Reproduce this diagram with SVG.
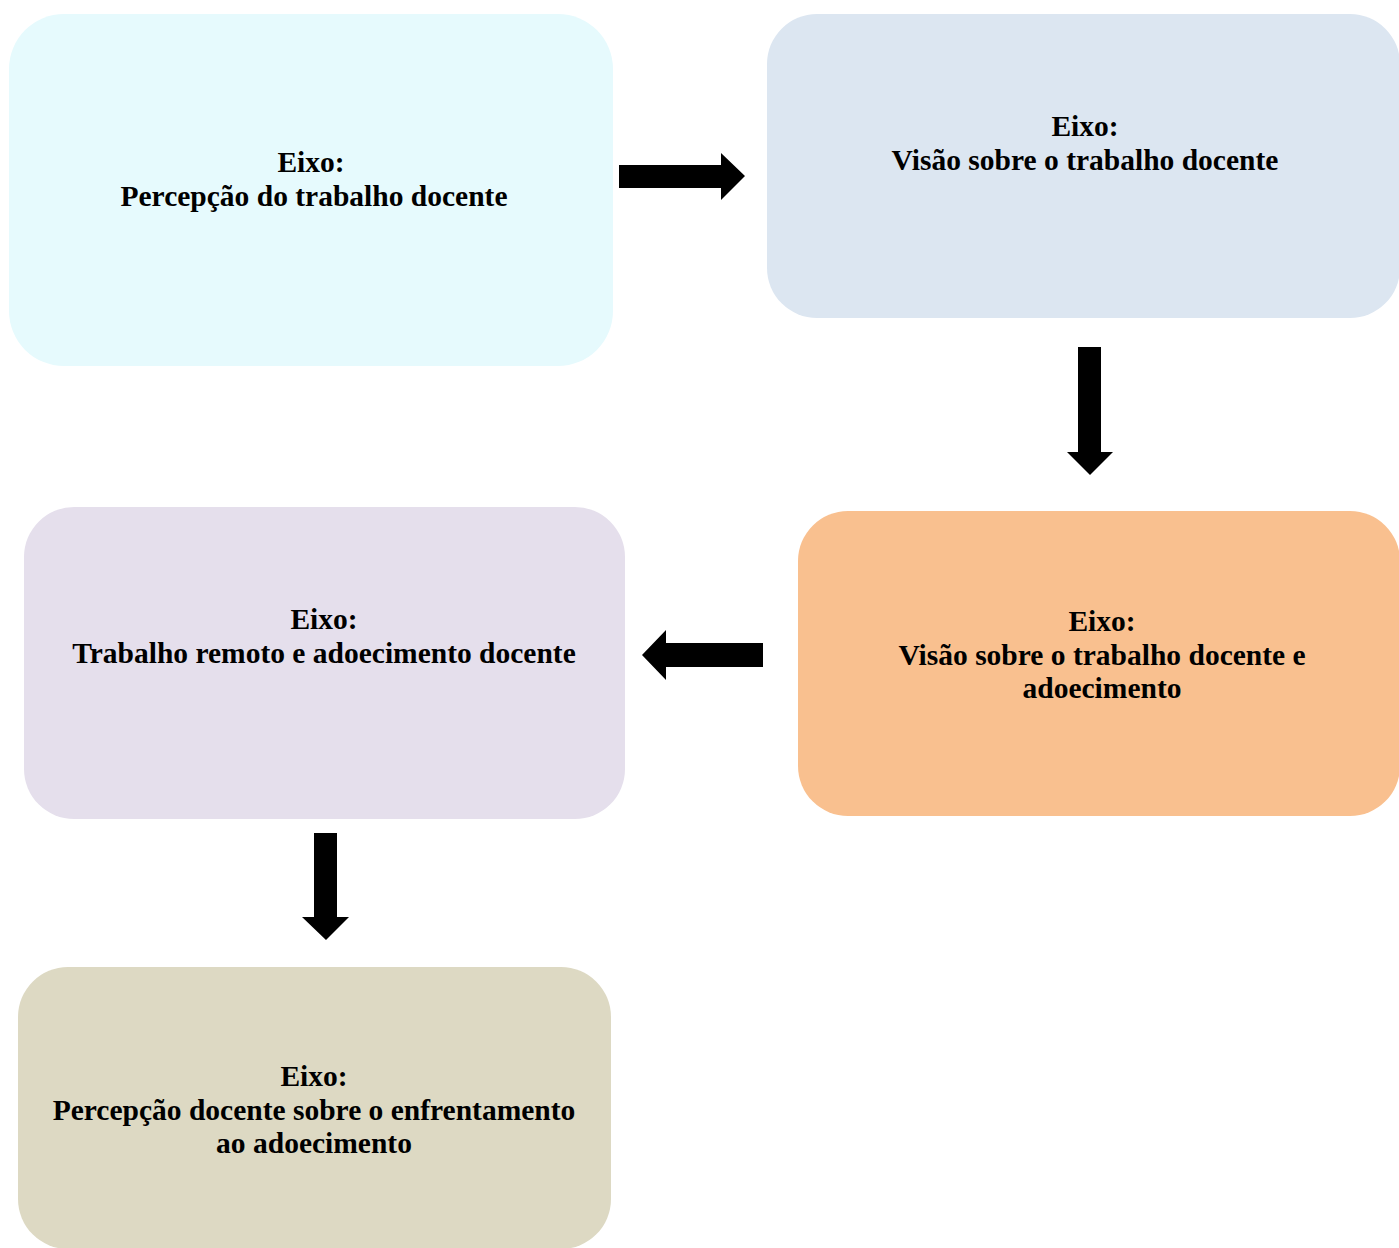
<svg xmlns="http://www.w3.org/2000/svg" width="1399" height="1248" viewBox="0 0 1399 1248">
<style>
text{font-family:"Liberation Serif","Times New Roman",serif;font-weight:bold;font-size:29.5px;fill:#000;text-anchor:middle}
.arrow{fill:#000}
</style>
<rect width="1399" height="1248" fill="#fff"/>
<g id="node-percepcao">
<rect x="9" y="14" width="604" height="352" rx="55" fill="#E6FAFD"/>
<text x="311" y="172">Eixo:</text>
<text x="314" y="206">Percepção do trabalho docente</text>
</g>
<g id="node-visao">
<rect x="767" y="14" width="633" height="304" rx="50" fill="#DCE6F1"/>
<text x="1085" y="136">Eixo:</text>
<text x="1085" y="170">Visão sobre o trabalho docente</text>
</g>
<g id="node-visao-adoecimento">
<rect x="798" y="511" width="602" height="305" rx="50" fill="#F9C08F"/>
<text x="1102" y="631">Eixo:</text>
<text x="1102" y="665">Visão sobre o trabalho docente e</text>
<text x="1102" y="698">adoecimento</text>
</g>
<g id="node-remoto">
<rect x="24" y="507" width="601" height="312" rx="50" fill="#E5DFEC"/>
<text x="324" y="629">Eixo:</text>
<text x="324" y="663">Trabalho remoto e adoecimento docente</text>
</g>
<g id="node-enfrentamento">
<rect x="18" y="967" width="593" height="282" rx="50" fill="#DDD9C3"/>
<text x="314" y="1086">Eixo:</text>
<text x="314" y="1120">Percepção docente sobre o enfrentamento</text>
<text x="314" y="1153">ao adoecimento</text>
</g>
<g id="connectors" class="arrow">
<polygon points="619,165 721,165 721,153 745,176 721,200 721,188 619,188"/>
<polygon points="1078,347 1101,347 1101,452 1113,452 1090,475 1067,452 1078,452"/>
<polygon points="763,643 666,643 666,630 642,655 666,680 666,667 763,667"/>
<polygon points="314,833 337,833 337,917 349,917 326,940 302,917 314,917"/>
</g>
</svg>
